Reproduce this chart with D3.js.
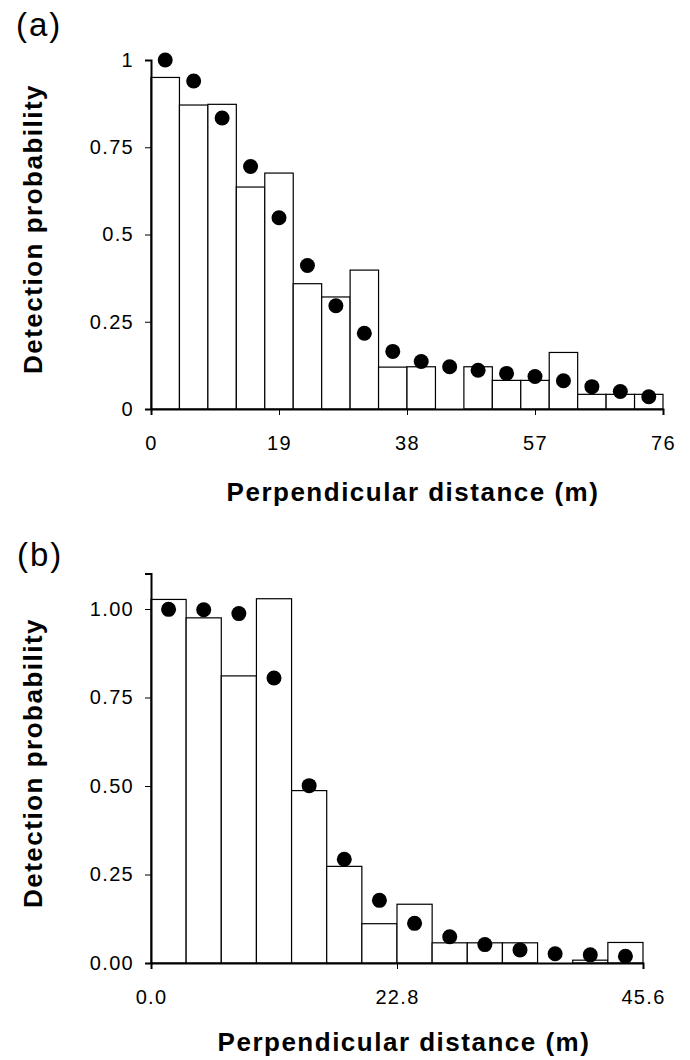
<!DOCTYPE html>
<html>
<head>
<meta charset="utf-8">
<style>
body { margin: 0; background: #fff; }
svg { font-family: "Liberation Sans", Arial, sans-serif; }
.bar { fill: #fff; stroke: #000; stroke-width: 1.2px; }
.dot { fill: #000; }
.axis path { stroke: #000; stroke-width: 2px; }
.axis line { stroke: #000; stroke-width: 1px; }
.axis text { font-size: 20px; letter-spacing: 1.3px; fill: #000; font-family: "Liberation Sans", Arial, sans-serif; }
.lab { font-size: 26px; font-weight: bold; letter-spacing: 1.5px; }
.panel { font-size: 33px; letter-spacing: 2px; }
</style>
</head>
<body>
<svg width="690" height="1060"></svg>
<script src="https://d3js.org/d3.v7.min.js"></script>
<script>

// panel (a): 18 distance classes over 0-76 m
var barsA = [0.950, 0.871, 0.873, 0.636, 0.676, 0.359, 0.321, 0.398, 0.120,
             0.121, 0, 0.121, 0.082, 0.082, 0.162, 0.042, 0.042, 0.042];
var dotsA = [1.0, 0.940, 0.834, 0.695, 0.548, 0.411, 0.296, 0.217, 0.165,
             0.136, 0.121, 0.111, 0.102, 0.093, 0.081, 0.064, 0.050, 0.035];
var xTicksA = [0, 19, 38, 57, 76];
var yTicksA = [0, 0.25, 0.5, 0.75, 1];
var yLabelsA = ["0", "0.25", "0.5", "0.75", "1"];

// panel (b): 14 distance classes over 0-45.6 m
var barsB = [1.027, 0.975, 0.811, 1.029, 0.487, 0.273, 0.111, 0.166, 0.057,
             0.057, 0.057, 0, 0.008, 0.058];
var dotsB = [0.999, 0.998, 0.987, 0.805, 0.501, 0.293, 0.177, 0.112, 0.074,
             0.052, 0.037, 0.026, 0.023, 0.019];
var xTicksB = [0, 22.8, 45.6];
var xLabelsB = ["0.0", "22.8", "45.6"];
var yTicksB = [0, 0.25, 0.5, 0.75, 1];
var yLabelsB = ["0.00", "0.25", "0.50", "0.75", "1.00"];

var svg = d3.select("svg");

function panel(opt) {
  var g = svg.append("g");
  var n = opt.bars.length;
  var w = opt.xmax / n;

  var x = d3.scaleLinear().domain([0, opt.xmax]).range(opt.xr);
  var y = d3.scaleLinear().domain([0, opt.ymax]).range(opt.yr);

  g.selectAll(".bar")
    .data(opt.bars)
    .enter().append("rect")
    .attr("class", "bar")
    .attr("x", function(d, i) { return x(i * w); })
    .attr("width", function(d, i) { return x((i + 1) * w) - x(i * w); })
    .attr("y", function(d) { return y(d); })
    .attr("height", function(d) { return y(0) - y(d); });

  g.selectAll(".dot")
    .data(opt.dots)
    .enter().append("circle")
    .attr("class", "dot")
    .attr("cx", function(d, i) { return x((i + 0.5) * w); })
    .attr("cy", function(d) { return y(d); })
    .attr("r", 7.5);

  g.append("g")
    .attr("class", "axis")
    .attr("transform", "translate(0," + y(0) + ")")
    .call(d3.axisBottom(x)
      .tickValues(opt.xticks)
      .tickFormat(function(d, i) { return opt.xlabels[i]; })
      .tickSizeOuter(0)
      .tickSize(6)
      .tickPadding(21));

  g.append("g")
    .attr("class", "axis")
    .attr("transform", "translate(" + x(0) + ",0)")
    .call(d3.axisLeft(y)
      .tickValues(opt.yticks)
      .tickFormat(function(d, i) { return opt.ylabels[i]; })
      .tickSizeOuter(0)
      .tickSize(6)
      .tickPadding(11));

  svg.append("text")
    .attr("class", "panel")
    .attr("x", opt.tag[0]).attr("y", opt.tag[1])
    .text(opt.tagText);

  svg.append("text")
    .attr("class", "lab")
    .attr("text-anchor", "middle")
    .attr("x", opt.xlab[0]).attr("y", opt.xlab[1])
    .text("Perpendicular distance (m)");

  svg.append("text")
    .attr("class", "lab")
    .attr("text-anchor", "middle")
    .attr("transform", "translate(" + opt.ylab[0] + "," + opt.ylab[1] + ") rotate(-90)")
    .text("Detection probability");
}

panel({
  bars: barsA, dots: dotsA, xmax: 76, ymax: 1,
  xr: [151, 663], yr: [409, 60],
  xticks: xTicksA, xlabels: xTicksA.map(String),
  yticks: yTicksA, ylabels: yLabelsA,
  tag: [16, 36], tagText: "(a)",
  xlab: [413, 501], ylab: [42, 229]
});

panel({
  bars: barsB, dots: dotsB, xmax: 45.6, ymax: 1.1,
  xr: [151, 643], yr: [963, 963 - 1.1 * 354],
  xticks: xTicksB, xlabels: xLabelsB,
  yticks: yTicksB, ylabels: yLabelsB,
  tag: [17, 566], tagText: "(b)",
  xlab: [404, 1051], ylab: [42, 763]
});

</script>
</body>
</html>
